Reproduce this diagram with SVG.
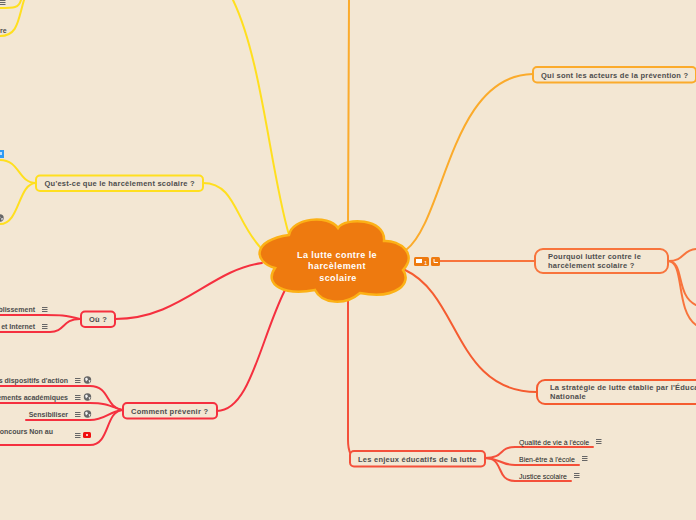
<svg xmlns="http://www.w3.org/2000/svg" width="696" height="520" viewBox="0 0 696 520">
<style>
.c{fill:none;stroke-width:2;stroke-linecap:round}
.n{fill:#f3e7d3;stroke-width:2}
.t{font-family:"Liberation Sans",Arial,sans-serif;font-size:7.5px;font-weight:700;fill:#4d4d4d;letter-spacing:.24px}
.s{font-family:"Liberation Sans",Arial,sans-serif;font-size:7px;fill:#222}
.b{font-size:7px;letter-spacing:0}
.y{stroke:#ffdf1f}.a{stroke:#fbab2b}.o{stroke:#f8743c}.p{stroke:#f55c30}.q{stroke:#f4503a}.r{stroke:#f5303f}
.h{fill:none;stroke:#666;stroke-width:1}
</style>
<defs>
<path id="m" class="h" d="M0 .5H5.500M0 2.500H5.500M0 4.500H5.500"/>
<g id="g"><circle cx="3.500" cy="3.500" r="3.700" fill="#666"/><path d="M1 2L3 1 4 3 2 5ZM4.500 4L6.500 3.500 5.500 6.500Z" fill="#f3f3f3"/></g>
</defs>
<rect width="696" height="520" fill="#f3e7d3"/>
<g id="connectors">
<path class="c y" d="M289 235C270 170 262 60 233 0"/>
<path class="c y" d="M203 183C235 183 235 220 260 247"/>
<path class="c y" d="M36 183C18 183 20 160 0 160"/>
<path class="c y" d="M36 183C18 183 20 224 0 224"/>
<path class="c y" d="M0 8C14 8 19 8 21 0"/>
<path class="c y" d="M0 36C18 36 18 20 24 0"/>
<path class="c a" d="M348 228L349 0"/>
<path class="c a" d="M406 250C445 220 450 75 533 74"/>
<path class="c o" d="M440 261H535"/>
<path class="c o" d="M668 261C685 261 682 250 696 249"/>
<path class="c o" d="M668 261C685 261 675 295 696 305"/>
<path class="c o" d="M668 261C685 261 675 310 696 325"/>
<path class="c p" d="M405 270C460 295 455 392 537 392"/>
<path class="c q" d="M348 300L348 440Q348 458 358 458"/>
<path class="c q" d="M485 458C505 458 498 447 515 447H593"/>
<path class="c q" d="M485 458C500 458 500 465 515 465H579"/>
<path class="c q" d="M485 458C505 458 495 481 515 481H571"/>
<path class="c r" d="M115 319C180 319 210 270 262 263"/>
<path class="c r" d="M80 319C65 315 60 315 45 315H0"/>
<path class="c r" d="M80 319C62 319 65 332 50 332H0"/>
<path class="c r" d="M217 411C250 411 260 340 285 290"/>
<path class="c r" d="M122 410C105 407 110 386 90 386H0"/>
<path class="c r" d="M122 410C108 405 105 403 90 403H0"/>
<path class="c r" d="M122 410C108 412 105 420 90 420H26"/>
<path class="c r" d="M122 410C105 412 110 445 90 445H0"/>
</g>
<g id="center">
<path d="M289 235C292 218 328 214 338 228C345 217 386 218 384 241C400 240 418 254 403 270C412 282 398 300 360 293C345 306 322 304 315 290C285 296 263 285 275 268C253 262 252 240 289 235Z" fill="#ee7a0f" stroke="#fcb116" stroke-width="2.500"/>
<text class="t" style="font-size:9px;fill:#fff;letter-spacing:.45px" text-anchor="middle"><tspan x="337" y="258">La lutte contre le</tspan><tspan x="337" y="269">harcèlement</tspan><tspan x="338" y="281">scolaire</tspan></text>
</g>
<g id="badges">
<rect x="414" y="257" width="15" height="9" rx="1.500" fill="#ee7a0f"/>
<rect x="416" y="259" width="6" height="4" fill="#fff"/>
<text x="424" y="264.500" class="s" style="font-size:6px;fill:#fff">1</text>
<rect x="431" y="257" width="9" height="9" rx="1.500" fill="#ee7a0f"/>
<path d="M434 259V262.500H438" fill="none" stroke="#fff"/>
</g>
<g id="n-questce"><rect class="n y" x="36" y="175.500" width="167" height="15.500" rx="4"/><text class="t" x="44.500" y="186">Qu'est-ce que le harcèlement scolaire ?</text></g>
<g id="n-ou"><rect class="n r" x="81" y="311.500" width="34" height="15.500" rx="4"/><text class="t" x="89" y="322">Où ?</text></g>
<g id="n-comment"><rect class="n r" x="123" y="403" width="94" height="15.500" rx="4"/><text class="t" x="131" y="413.500">Comment prévenir ?</text></g>
<g id="n-qui"><rect class="n a" x="533" y="67" width="163" height="15.500" rx="4"/><text class="t" x="541" y="77.500">Qui sont les acteurs de la prévention ?</text></g>
<g id="n-pourquoi"><rect class="n o" x="535" y="249" width="133" height="24" rx="8"/><text class="t"><tspan x="548" y="259">Pourquoi lutter contre le</tspan><tspan x="548" y="268">harcèlement scolaire ?</tspan></text></g>
<g id="n-strategie"><rect class="n p" x="537" y="380" width="170" height="24" rx="8"/><text class="t"><tspan x="550" y="390">La stratégie de lutte établie par l'Éducation</tspan><tspan x="550" y="399">Nationale</tspan></text></g>
<g id="n-enjeux"><rect class="n q" x="350" y="451" width="135" height="15.500" rx="4"/><text class="t" x="358" y="461.500">Les enjeux éducatifs de la lutte</text></g>
<g id="l-qualite"><text class="s" x="519" y="444.500">Qualité de vie à l'école</text><use href="#m" x="596" y="439"/></g>
<g id="l-bien"><text class="s" x="519" y="461.500">Bien-être à l'école</text><use href="#m" x="582" y="456"/></g>
<g id="l-justice"><text class="s" x="519" y="478.500">Justice scolaire</text><use href="#m" x="574" y="473"/></g>
<g id="l-etab"><text class="t b" x="35" y="312" text-anchor="end">blissement</text><use href="#m" x="42" y="307"/></g>
<g id="l-internet"><text class="t b" x="35" y="329" text-anchor="end">et Internet</text><use href="#m" x="42" y="324"/></g>
<g id="l-dispositifs"><text class="t b" x="68" y="383" text-anchor="end">s dispositifs d'action</text><use href="#m" x="75" y="378"/><use href="#g" x="84" y="376.500"/></g>
<g id="l-acad"><text class="t b" x="68" y="400" text-anchor="end">ements académiques</text><use href="#m" x="75" y="395"/><use href="#g" x="84" y="393.500"/></g>
<g id="l-sens"><text class="t b" x="68" y="417" text-anchor="end">Sensibiliser</text><use href="#m" x="75" y="412"/><use href="#g" x="84" y="410.500"/></g>
<g id="l-concours"><text class="t b" x="53" y="434" text-anchor="end">oncours Non au</text><use href="#m" x="75" y="433"/><rect x="83" y="432" width="8" height="6" rx="1.500" fill="#f01010"/><circle cx="87" cy="435" r="1" fill="#fff"/></g>
<g id="l-top"><use href="#m" x="0" y="0"/><text class="t b" x="0" y="33">re</text></g>
<g id="i-blue"><rect x="-4" y="150" width="8" height="8" fill="#2f9bf5"/><rect x="-1" y="152" width="3" height="3" fill="#bfe0ff"/></g>
<g id="i-globe"><use href="#g" x="-3.500" y="214.500"/></g>
</svg>
